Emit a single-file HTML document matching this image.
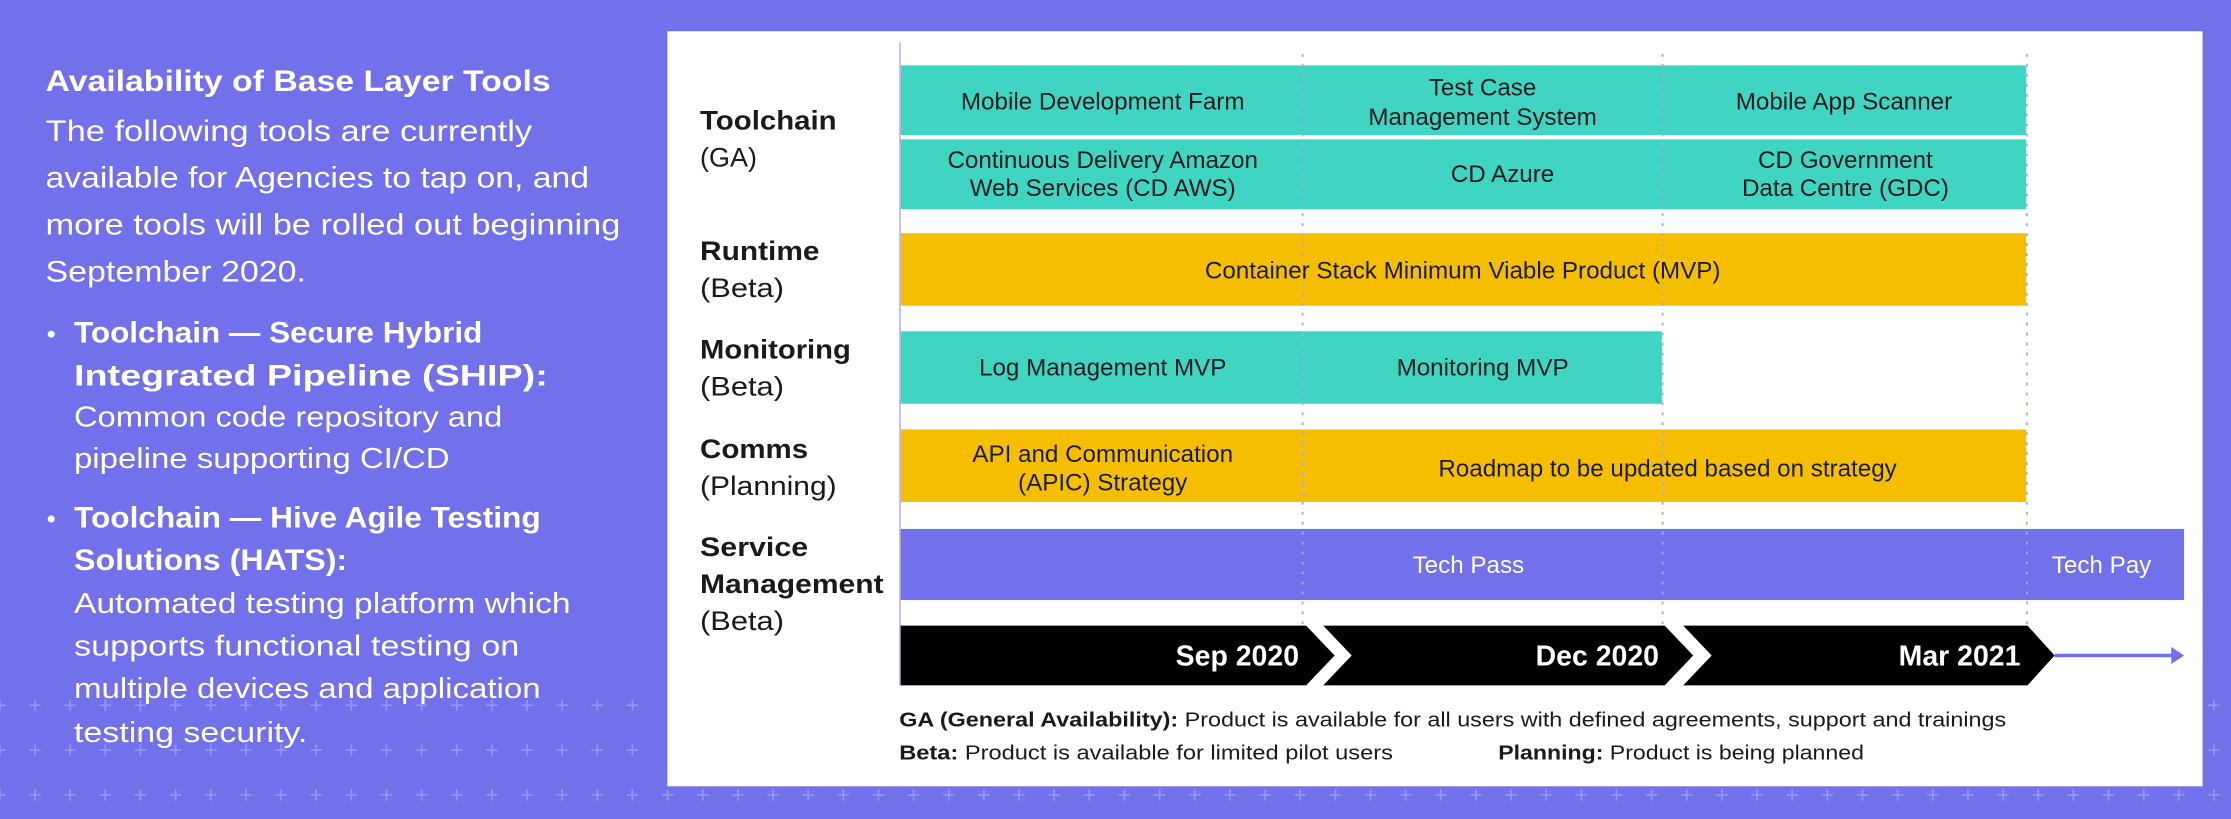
<!DOCTYPE html>
<html><head><meta charset="utf-8"><style>
html,body{margin:0;padding:0;background:#7270ea;}
svg{display:block;}
text{font-family:"Liberation Sans",sans-serif;}
</style></head><body>
<svg width="2231" height="819" viewBox="0 0 1568 576" preserveAspectRatio="none" xmlns="http://www.w3.org/2000/svg">
<defs>
<pattern id="plus" x="12.25" y="9" width="24.7" height="31.5" patternUnits="userSpaceOnUse">
<path d="M12.35 10.5v8M8.35 14.5h8" stroke="#9896f2" stroke-width="1.2" fill="none"/>
</pattern>
</defs>
<rect width="1568" height="576" fill="#7270ea"/>
<rect x="0" y="480" width="455" height="63" fill="url(#plus)"/>
<rect x="0" y="543" width="1568" height="33" fill="url(#plus)"/>
<rect x="1548" y="480" width="20" height="63" fill="url(#plus)"/>
<rect x="469" y="22" width="1079" height="531" fill="#ffffff"/>

<!-- left text -->
<g fill="#ffffff">
<text x="32" y="64" font-size="21" font-weight="bold" textLength="355" lengthAdjust="spacingAndGlyphs">Availability of Base Layer Tools</text>
<g font-size="21">
<text x="32" y="99" textLength="342" lengthAdjust="spacingAndGlyphs">The following tools are currently</text>
<text x="32" y="132" textLength="382" lengthAdjust="spacingAndGlyphs">available for Agencies to tap on, and</text>
<text x="32" y="165" textLength="404" lengthAdjust="spacingAndGlyphs">more tools will be rolled out beginning</text>
<text x="32" y="198" textLength="183" lengthAdjust="spacingAndGlyphs">September 2020.</text>
</g>
<circle cx="36" cy="235" r="2.5"/>
<circle cx="36" cy="365" r="2.5"/>
<g font-size="21" font-weight="bold">
<text x="52" y="241" textLength="287" lengthAdjust="spacingAndGlyphs">Toolchain — Secure Hybrid</text>
<text x="52" y="271" textLength="333" lengthAdjust="spacingAndGlyphs">Integrated Pipeline (SHIP):</text>
<text x="52" y="371" textLength="328" lengthAdjust="spacingAndGlyphs">Toolchain — Hive Agile Testing</text>
<text x="52" y="401" textLength="192" lengthAdjust="spacingAndGlyphs">Solutions (HATS):</text>
</g>
<g font-size="20">
<text x="52" y="300" textLength="301" lengthAdjust="spacingAndGlyphs">Common code repository and</text>
<text x="52" y="329" textLength="264" lengthAdjust="spacingAndGlyphs">pipeline supporting CI/CD</text>
<text x="52" y="431" textLength="349" lengthAdjust="spacingAndGlyphs">Automated testing platform which</text>
<text x="52" y="461" textLength="313" lengthAdjust="spacingAndGlyphs">supports functional testing on</text>
<text x="52" y="491" textLength="328" lengthAdjust="spacingAndGlyphs">multiple devices and application</text>
<text x="52" y="522" textLength="164" lengthAdjust="spacingAndGlyphs">testing security.</text>
</g>
</g>

<!-- row labels -->
<g fill="#1a1a1a" font-size="19">
<text x="492" y="91" font-weight="bold" textLength="96" lengthAdjust="spacingAndGlyphs">Toolchain</text>
<text x="492" y="117" textLength="40" lengthAdjust="spacingAndGlyphs">(GA)</text>
<text x="492" y="183" font-weight="bold" textLength="84" lengthAdjust="spacingAndGlyphs">Runtime</text>
<text x="492" y="209" textLength="59" lengthAdjust="spacingAndGlyphs">(Beta)</text>
<text x="492" y="252" font-weight="bold" textLength="106" lengthAdjust="spacingAndGlyphs">Monitoring</text>
<text x="492" y="278" textLength="59" lengthAdjust="spacingAndGlyphs">(Beta)</text>
<text x="492" y="322" font-weight="bold" textLength="76" lengthAdjust="spacingAndGlyphs">Comms</text>
<text x="492" y="348" textLength="96" lengthAdjust="spacingAndGlyphs">(Planning)</text>
<text x="492" y="391" font-weight="bold" textLength="76" lengthAdjust="spacingAndGlyphs">Service</text>
<text x="492" y="417" font-weight="bold" textLength="129" lengthAdjust="spacingAndGlyphs">Management</text>
<text x="492" y="443" textLength="59" lengthAdjust="spacingAndGlyphs">(Beta)</text>
</g>

<!-- axis -->
<line x1="632.5" y1="30" x2="632.5" y2="482" stroke="#b9b8f5" stroke-width="1.2"/>

<!-- bars -->
<rect x="633" y="46" width="791" height="49" fill="#40d4c2"/>
<rect x="633" y="98" width="791" height="49" fill="#40d4c2"/>
<rect x="633" y="164" width="791" height="51" fill="#f6be00"/>
<rect x="633" y="233" width="535" height="51" fill="#40d4c2"/>
<rect x="633" y="302" width="791" height="51" fill="#f6be00"/>
<rect x="633" y="372" width="902" height="50" fill="#7270ea"/>

<!-- dotted lines -->
<g stroke="#a9a7ee" stroke-width="1.3" stroke-dasharray="2 5">
<line x1="915.5" y1="38" x2="915.5" y2="440"/>
<line x1="1168.5" y1="38" x2="1168.5" y2="440"/>
<line x1="1424.5" y1="38" x2="1424.5" y2="440"/>
</g>

<g fill="#1a1a1a" font-size="17" text-anchor="middle">
<text x="775" y="77">Mobile Development Farm</text>
<text x="1042" y="67">Test Case</text>
<text x="1042" y="88">Management System</text>
<text x="1296" y="77">Mobile App Scanner</text>
<text x="775" y="118">Continuous Delivery Amazon</text>
<text x="775" y="138">Web Services (CD AWS)</text>
<text x="1056" y="128">CD Azure</text>
<text x="1297" y="118">CD Government</text>
<text x="1297" y="138">Data Centre (GDC)</text>
<text x="1028" y="196">Container Stack Minimum Viable Product (MVP)</text>
<text x="775" y="264">Log Management MVP</text>
<text x="1042" y="264">Monitoring MVP</text>
<text x="775" y="325">API and Communication</text>
<text x="775" y="345">(APIC) Strategy</text>
<text x="1172" y="335">Roadmap to be updated based on strategy</text>
</g>
<g fill="#ffffff" font-size="17" text-anchor="middle">
<text x="1032" y="403">Tech Pass</text>
<text x="1477" y="403">Tech Pay</text>
</g>

<!-- timeline -->
<polygon points="633,440 918,440 938,461 918,482 633,482" fill="#000"/>
<polygon points="930,440 1170,440 1190,461 1170,482 930,482 950,461" fill="#000"/>
<polygon points="1183,440 1425,440 1444,461 1425,482 1183,482 1203,461" fill="#000"/>
<line x1="1444" y1="461" x2="1528" y2="461" stroke="#7270ea" stroke-width="2.5"/>
<polygon points="1526,455 1535,461 1526,467" fill="#7270ea"/>
<g fill="#ffffff" font-size="20" font-weight="bold" text-anchor="end">
<text x="913" y="468">Sep 2020</text>
<text x="1166" y="468">Dec 2020</text>
<text x="1420" y="468">Mar 2021</text>
</g>

<!-- legend -->
<g fill="#1a1a1a" font-size="14.5">
<text x="632" y="511" textLength="778" lengthAdjust="spacingAndGlyphs"><tspan font-weight="bold">GA (General Availability):</tspan> Product is available for all users with defined agreements, support and trainings</text>
<text x="632" y="534" textLength="347" lengthAdjust="spacingAndGlyphs"><tspan font-weight="bold">Beta:</tspan> Product is available for limited pilot users</text>
<text x="1053" y="534" textLength="257" lengthAdjust="spacingAndGlyphs"><tspan font-weight="bold">Planning:</tspan> Product is being planned</text>
</g>
</svg>
</body></html>
